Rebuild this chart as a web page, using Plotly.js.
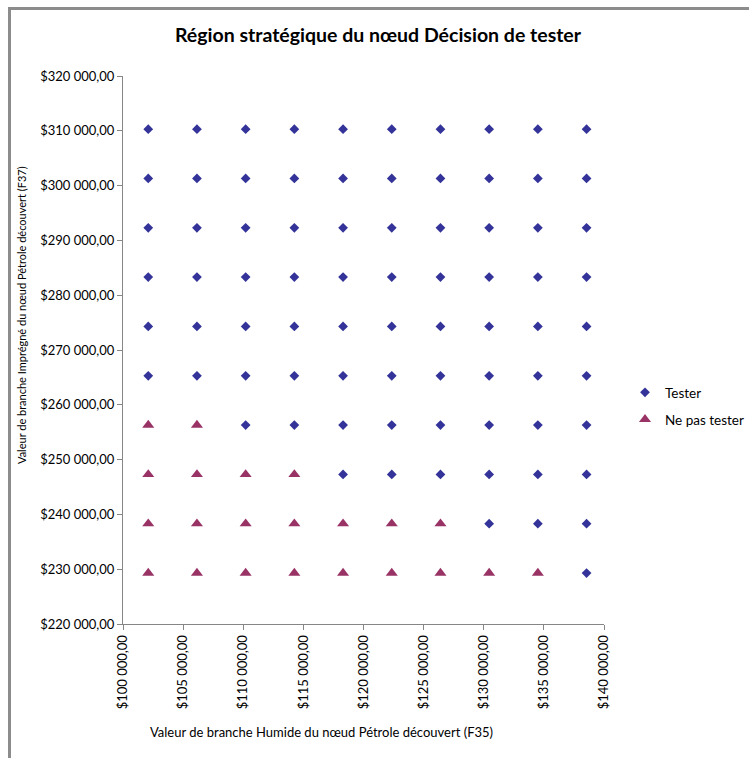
<!DOCTYPE html>
<html>
<head>
<meta charset="utf-8">
<script src="https://cdn.plot.ly/plotly-3.0.1.min.js"></script>
<style>
  html, body { margin: 0; padding: 0; background: #fff; }
  #wrap { position: relative; width: 749px; height: 758px; }
  #chart { width: 749px; height: 758px; }
  #frame { position: absolute; left: 8px; top: 7px; width: 741px; height: 751px;
           border-top: 3px solid #8c8c8c; border-left: 3px solid #8c8c8c;
           box-sizing: border-box; pointer-events: none; }
</style>
</head>
<body>
<div id="wrap"><div id="chart"></div><div id="frame"></div></div>
<script>
// x values (Humide branch) and y values (Imprégné branch)
const xVals = [102100, 106150, 110200, 114250, 118300, 122350, 126400, 130450, 134500, 138550];
const yVals = [229300, 238300, 247300, 256300, 265300, 274300, 283300, 292300, 301300, 310300];
// number of "Ne pas tester" points (from the left) in each row, bottom to top
const nePasCount = [9, 7, 4, 2, 0, 0, 0, 0, 0, 0];
const seriesNames = ['Tester', 'Ne pas tester'];

const testerX = [], testerY = [], neX = [], neY = [];
yVals.forEach((y, r) => {
  xVals.forEach((x, c) => {
    if (c < nePasCount[r]) { neX.push(x); neY.push(y); }
    else { testerX.push(x); testerY.push(y); }
  });
});

const font = "Lato, 'Open Sans', 'Liberation Sans', sans-serif";

const data = [
  { type: 'scatter', mode: 'markers', name: seriesNames[0], x: testerX, y: testerY,
    legend: 'legend',
    marker: { symbol: 'diamond', size: 7.5, color: '#333399' } },
  { type: 'scatter', mode: 'markers', name: seriesNames[1], x: neX, y: neY,
    legend: 'legend2',
    marker: { symbol: 'triangle-up', size: 10.5, color: '#993366' } }
];

const axisCommon = {
  showgrid: false, zeroline: false, showline: true, linecolor: '#868686', linewidth: 1,
  ticks: 'outside', ticklen: 5, tickcolor: '#868686', tickwidth: 1,
  tickformat: '$,.2f', tickfont: { family: font, size: 13, color: '#000' }
};

const legendCommon = {
  xref: 'container', yref: 'container', x: 625 / 749, xanchor: 'left', yanchor: 'top',
  font: { family: font, size: 13.5, color: '#000' },
  itemwidth: 30, bgcolor: 'rgba(0,0,0,0)', borderwidth: 0
};

const layout = {
  width: 749, height: 758,
  margin: { l: 123, r: 145, t: 76, b: 134 },
  paper_bgcolor: '#fff', plot_bgcolor: '#fff',
  separators: ', ',
  font: { family: font, color: '#000' },
  title: { text: 'Région stratégique du nœud Décision de tester',
           font: { family: font, size: 19.5, color: '#000', weight: 'bold' },
           x: 378 / 749, xref: 'container', xanchor: 'center',
           y: 1 - 35 / 758, yref: 'container', yanchor: 'middle' },
  xaxis: Object.assign({}, axisCommon, { range: [100000, 140000], dtick: 5000, tick0: 100000,
           tickangle: -90, fixedrange: true, automargin: false }),
  yaxis: Object.assign({}, axisCommon, { range: [220000, 320000], dtick: 10000, tick0: 220000,
           fixedrange: true, automargin: false }),
  showlegend: true,
  legend: Object.assign({}, legendCommon, { y: 1 - 377 / 758 }),
  legend2: Object.assign({}, legendCommon, { y: 1 - 404 / 758 }),
  annotations: [
    { text: 'Valeur de branche Humide du nœud Pétrole découvert (F35)',
      xref: 'paper', yref: 'paper', x: (321 - 123) / 481, y: -(732 - 624) / 548,
      xanchor: 'center', yanchor: 'middle', showarrow: false,
      font: { family: font, size: 13, color: '#000' } },
    { text: 'Valeur de branche Imprégné du nœud Pétrole découvert (F37)',
      xref: 'paper', yref: 'paper', x: -(123 - 21) / 481, y: (624 - 315) / 548,
      xanchor: 'center', yanchor: 'middle', textangle: -90, showarrow: false,
      font: { family: font, size: 11, color: '#000' } }
  ]
};

Plotly.newPlot('chart', data, layout, { displayModeBar: false, staticPlot: true });
</script>
</body>
</html>
